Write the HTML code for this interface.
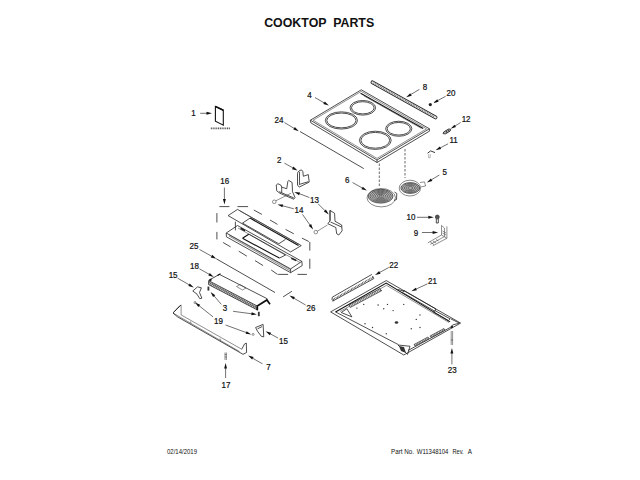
<!DOCTYPE html>
<html><head><meta charset="utf-8">
<style>
html,body{margin:0;padding:0;background:#fff;width:640px;height:480px;overflow:hidden}
svg{display:block}
text{font-family:"Liberation Sans",sans-serif;fill:#111}
.lb text{font-size:8px;stroke:#111;stroke-width:0.2}
.ln{stroke:#222;stroke-width:0.8;fill:none}
.th{stroke:#444;stroke-width:0.6;fill:none}
.dk{stroke:#111;stroke-width:1.1;fill:none}
.ds{stroke:#333;stroke-width:0.8;fill:none;stroke-dasharray:9 7}
.ar{stroke:#333;stroke-width:0.7;fill:none}
.ah{fill:#111}
</style></head><body>
<svg width="640" height="480" viewBox="0 0 640 480">
<rect width="640" height="480" fill="#fff"/>
<text x="264.2" y="26.8" font-weight="bold" font-size="13.2" textLength="110" lengthAdjust="spacingAndGlyphs" xml:space="preserve">COOKTOP  PARTS</text>
<text x="167" y="454.2" font-size="7.6" textLength="30" lengthAdjust="spacingAndGlyphs">02/14/2019</text>
<text x="391" y="454.2" font-size="7.6" textLength="23" lengthAdjust="spacingAndGlyphs">Part No.</text>
<text x="416.8" y="454.2" font-size="7.6" textLength="31.6" lengthAdjust="spacingAndGlyphs">W11348104</text>
<text x="452.5" y="454.2" font-size="7.6" textLength="11.2" lengthAdjust="spacingAndGlyphs">Rev.</text>
<text x="467.8" y="454.2" font-size="7.6" textLength="4.2" lengthAdjust="spacingAndGlyphs">A</text>

<g class="lb" text-anchor="middle">
<text transform="translate(193.5 115.6) scale(1 1.12)">1</text>
<text transform="translate(309.5 97.8) scale(1 1.12)">4</text>
<text transform="translate(278.9 122.5) scale(1 1.12)">24</text>
<text transform="translate(424.9 89.8) scale(1 1.12)">8</text>
<text transform="translate(451.0 96.3) scale(1 1.12)">20</text>
<text transform="translate(466.1 121.9) scale(1 1.12)">12</text>
<text transform="translate(453.6 143.1) scale(1 1.12)">11</text>
<text transform="translate(279.1 162.9) scale(1 1.12)">2</text>
<text transform="translate(314.4 202.6) scale(1 1.12)">13</text>
<text transform="translate(299.0 213.1) scale(1 1.12)">14</text>
<text transform="translate(224.7 184.4) scale(1 1.12)">16</text>
<text transform="translate(347.2 182.5) scale(1 1.12)">6</text>
<text transform="translate(444.7 175.0) scale(1 1.12)">5</text>
<text transform="translate(411.0 219.7) scale(1 1.12)">10</text>
<text transform="translate(415.9 235.6) scale(1 1.12)">9</text>
<text transform="translate(193.9 248.8) scale(1 1.12)">25</text>
<text transform="translate(194.4 268.8) scale(1 1.12)">18</text>
<text transform="translate(173.1 278.1) scale(1 1.12)">15</text>
<text transform="translate(225.0 311.3) scale(1 1.12)">3</text>
<text transform="translate(218.5 323.8) scale(1 1.12)">19</text>
<text transform="translate(311.0 310.6) scale(1 1.12)">26</text>
<text transform="translate(393.8 267.5) scale(1 1.12)">22</text>
<text transform="translate(432.5 283.8) scale(1 1.12)">21</text>
<text transform="translate(283.4 344.4) scale(1 1.12)">15</text>
<text transform="translate(268.5 370.0) scale(1 1.12)">7</text>
<text transform="translate(226.0 387.5) scale(1 1.12)">17</text>
<text transform="translate(452.2 373.1) scale(1 1.12)">23</text>
</g>
<path class="ar" d="M200.2,113.3 L207.0,113.3"/><path class="ah" d="M212.00,113.30 L206.50,114.75 L206.50,111.85 Z"/>
<path class="ar" d="M315.0,97.5 L324.5,103.1"/><path class="ah" d="M328.80,105.60 L323.32,104.07 L324.79,101.57 Z"/>
<path class="ar" d="M284.4,122.5 L294.5,128.6"/><path class="ah" d="M298.80,131.20 L293.34,129.60 L294.84,127.11 Z"/>
<path class="ar" d="M419.4,89.4 L410.5,94.7"/><path class="ah" d="M406.20,97.20 L410.20,93.15 L411.67,95.65 Z"/>
<path class="ar" d="M445.6,96.3 L437.5,100.7"/><path class="ah" d="M433.10,103.10 L437.24,99.20 L438.62,101.75 Z"/>
<path class="ar" d="M460.6,122.5 L454.8,126.1"/><path class="ah" d="M450.60,128.80 L454.48,124.64 L456.03,127.10 Z"/>
<path class="ar" d="M448.1,143.8 L440.0,148.0"/><path class="ah" d="M435.60,150.30 L439.81,146.48 L441.15,149.05 Z"/>
<path class="ar" d="M284.4,163.1 L293.2,168.1"/><path class="ah" d="M297.50,170.60 L292.01,169.13 L293.45,166.61 Z"/>
<path class="ar" d="M309.4,197.5 L299.1,193.6"/><path class="ah" d="M294.40,191.90 L300.06,192.47 L299.05,195.18 Z"/>
<path class="ar" d="M318.1,203.8 L325.2,210.9"/><path class="ah" d="M328.80,214.40 L323.87,211.56 L325.91,209.50 Z"/>
<path class="ar" d="M293.8,208.8 L282.3,205.7"/><path class="ah" d="M277.50,204.40 L283.19,204.43 L282.43,207.23 Z"/>
<path class="ar" d="M302.5,214.4 L310.2,225.3"/><path class="ah" d="M313.10,229.40 L308.74,225.75 L311.11,224.07 Z"/>
<path class="ar" d="M224.4,187.5 L224.4,199.4"/><path class="ah" d="M224.40,204.40 L222.95,198.90 L225.85,198.90 Z"/>
<path class="ar" d="M352.5,182.5 L362.5,188.1"/><path class="ah" d="M366.90,190.60 L361.40,189.17 L362.82,186.64 Z"/>
<path class="ar" d="M439.4,175.0 L431.2,179.9"/><path class="ah" d="M426.90,182.50 L430.87,178.43 L432.36,180.91 Z"/>
<path class="ar" d="M416.9,217.3 L428.8,217.3"/><path class="ah" d="M433.80,217.30 L428.30,218.75 L428.30,215.85 Z"/>
<path class="ar" d="M421.9,232.5 L433.1,232.5"/><path class="ah" d="M438.10,232.50 L432.60,233.95 L432.60,231.05 Z"/>
<path class="ar" d="M199.4,249.4 L211.9,256.4"/><path class="ah" d="M216.30,258.80 L210.79,257.39 L212.20,254.86 Z"/>
<path class="ar" d="M199.4,268.8 L209.4,274.4"/><path class="ah" d="M213.80,276.90 L208.30,275.47 L209.72,272.94 Z"/>
<path class="ar" d="M177.5,278.1 L189.5,285.0"/><path class="ah" d="M193.80,287.50 L188.31,286.01 L189.76,283.50 Z"/>
<path class="ar" d="M221.3,304.4 L213.9,295.7"/><path class="ah" d="M210.60,291.90 L215.28,295.14 L213.08,297.02 Z"/>
<path class="ar" d="M233.1,311.3 L251.9,313.8"/><path class="ah" d="M256.90,314.40 L251.26,315.13 L251.63,312.25 Z"/>
<path class="ar" d="M213.1,316.9 L198.9,305.6"/><path class="ah" d="M195.00,302.50 L200.21,304.79 L198.40,307.06 Z"/>
<path class="ar" d="M225.6,325.0 L246.6,332.7"/><path class="ah" d="M251.30,334.40 L245.64,333.87 L246.63,331.15 Z"/>
<path class="ar" d="M305.6,305.0 L293.7,298.1"/><path class="ah" d="M289.40,295.60 L294.88,297.11 L293.43,299.61 Z"/>
<path class="ar" d="M388.8,267.5 L379.4,272.6"/><path class="ah" d="M375.00,275.00 L379.14,271.10 L380.52,273.65 Z"/>
<path class="ar" d="M427.5,283.8 L415.8,289.2"/><path class="ah" d="M411.30,291.30 L415.68,287.67 L416.90,290.31 Z"/>
<path class="ar" d="M278.1,338.1 L270.0,333.7"/><path class="ah" d="M265.60,331.30 L271.12,332.65 L269.74,335.20 Z"/>
<path class="ar" d="M262.5,363.8 L252.4,358.1"/><path class="ah" d="M248.10,355.60 L253.60,357.06 L252.16,359.58 Z"/>
<path class="ar" d="M225.6,378.0 L225.6,368.1"/><path class="ah" d="M225.60,363.10 L227.05,368.60 L224.15,368.60 Z"/>
<path class="ar" d="M451.9,364.4 L451.9,353.1"/><path class="ah" d="M451.90,348.10 L453.35,353.60 L450.45,353.60 Z"/>
<!-- ===== part 1 ===== -->
<path class="dk" d="M215.4,106.4 L223.3,110.2 L223.3,125.2 L215.4,121.2 Z"/><path d="M215.4,106.4 L223.3,110.2" stroke="#111" stroke-width="1.6"/>
<path d="M210.8,128.4 L230.4,128.4" stroke="#555" stroke-width="1.6" stroke-dasharray="1.1 0.7" fill="none"/>

<!-- ===== cooktop 4 ===== -->
<path class="ln" d="M361.3,89.8 L310.4,120.2 L377,160 L429.4,128.75 Z"/>
<path class="th" d="M361.3,91.4 L313.1,120.2 L377.0,158.4 L426.6,128.8 Z"/>
<path class="ln" d="M310.4,120.2 L310.8,122.8 L377,162.5 L429.4,131.2 L429.4,128.75 M377,160 L377,162.5"/>
<path class="dk" d="M360.6,93.2 L423.2,128.6"/>
<path class="th" d="M364,95.9 L421.3,128.3"/>
<g class="ln" stroke-width="0.9">
<ellipse cx="341.4" cy="120.45" rx="16.1" ry="8.6"/>
<ellipse cx="341.4" cy="120.45" rx="14.6" ry="7.4"/>
<ellipse cx="362.8" cy="107.8" rx="12.8" ry="7.3"/>
<ellipse cx="362.8" cy="107.8" rx="11.3" ry="6.1"/>
<ellipse cx="398.75" cy="128.75" rx="13.1" ry="7.5"/>
<ellipse cx="398.75" cy="128.75" rx="11.6" ry="6.3"/>
<ellipse cx="375.3" cy="140.3" rx="15.9" ry="9.1"/>
<ellipse cx="375.3" cy="140.3" rx="14.4" ry="7.9"/>
</g>
<!-- bar 8 -->
<path d="M372.5,82.4 L435.5,117.4" stroke="#222" stroke-width="3.9" stroke-linecap="round" fill="none"/>
<path d="M372.5,82.4 L435.5,117.4" stroke="#e8e8e8" stroke-width="2.2" stroke-linecap="round" fill="none"/>
<path d="M373.5,83 L434.5,116.8" stroke="#666" stroke-width="1.6" stroke-dasharray="0.8 1" fill="none"/>
<circle cx="430.3" cy="104.6" r="1.6" fill="#222"/>
<!-- 12 grommet -->
<path d="M443,133.6 L443.8,131.9 L448.6,129 L450.7,129.2 L450.2,131 L445.6,133.9 Z M446,130.6 L447.3,133 M448,129.5 L449.2,131.6" fill="#aaa" stroke="#222" stroke-width="0.8"/>
<!-- 11 clip -->
<path d="M427.6,153.2 L430.6,150.9 L435,152.6" stroke="#222" stroke-width="0.9" fill="none"/><path d="M428.6,154.2 L428.6,157.8 L430.2,157.8 L430.2,154.2" stroke="#888" stroke-width="0.6" fill="none"/>
<!-- 24 line -->
<path class="ln" d="M300,131.5 L363.8,168.6"/>
<!-- dashed verticals -->
<path d="M379.3,163.5 L379.3,187 M405,149 L405,178" stroke="#444" stroke-width="0.8" stroke-dasharray="2.5 1.5" fill="none"/>
<!-- burner 6 -->
<defs><pattern id="hp" width="2" height="2" patternUnits="userSpaceOnUse" patternTransform="rotate(-30)"><rect width="2" height="2" fill="#d8d8d8"/><rect width="2" height="0.9" fill="#555"/></pattern></defs>
<ellipse cx="381.25" cy="197.7" rx="14.2" ry="9.2" fill="none" stroke="#555" stroke-width="0.7"/>
<ellipse cx="380.6" cy="196.2" rx="12.4" ry="6.9" fill="#bbb" stroke="#333" stroke-width="0.8"/>
<g fill="none" stroke="#444" stroke-width="0.7">
<ellipse cx="380.6" cy="196.2" rx="10.6" ry="5.9"/>
<ellipse cx="380.6" cy="196.2" rx="8.8" ry="4.9"/>
<ellipse cx="380.6" cy="196.2" rx="7.0" ry="3.9"/>
<ellipse cx="380.6" cy="196.2" rx="5.2" ry="2.9"/>
<ellipse cx="380.6" cy="196.2" rx="3.4" ry="1.9"/>
<ellipse cx="380.6" cy="196.2" rx="1.6" ry="0.9"/>
</g>
<path class="ln" d="M394.5,192 L396.8,193.5 L396.5,199.5 L394,200.5"/>
<!-- burner 5 -->
<ellipse cx="409.9" cy="188.1" rx="10.7" ry="7.9" fill="none" stroke="#555" stroke-width="0.7"/>
<ellipse cx="410.3" cy="188" rx="9.4" ry="5.4" fill="#bbb" stroke="#333" stroke-width="0.8"/>
<g fill="none" stroke="#444" stroke-width="0.7">
<ellipse cx="410.3" cy="188.0" rx="7.8" ry="4.5"/>
<ellipse cx="410.3" cy="188.0" rx="6.0" ry="3.4"/>
<ellipse cx="410.3" cy="188.0" rx="4.2" ry="2.4"/>
<ellipse cx="410.3" cy="188.0" rx="2.4" ry="1.4"/>
</g>
<path class="th" d="M420,182.5 L424.5,181.9 L425.6,186 L421,186.9"/>

<!-- part 2 -->
<path class="ln" d="M297.9,172.1 L299.6,170.4 L301.7,170 L302.9,171.7 L303.3,176.25 L308.3,174.6 L309.2,182.1 L299.2,187.1 L297.5,185 L297.5,173.75 Z M299.6,171.7 L299.4,185 M300,184.2 L308.3,181.7"/>
<!-- part 13 left -->
<path class="ln" d="M276.25,185 L277.9,183.75 L280.8,185 L281.7,187.1 L286.7,188.75 L287.9,181.25 L288.75,180.4 L292.1,182.5 L292.5,191.7 L295,197.5 L293.75,199.2 L280,193.3 L276.7,190.8 Z M279.2,191.7 L293.75,197.9 M281.7,187.1 L281.7,192.5"/>
<circle cx="274.3" cy="201.8" r="1.8" class="th"/>
<path class="th" d="M275.8,200.8 L290.8,193.3"/>
<!-- part 13 right -->
<path class="ln" d="M330,210.4 L334.6,213.3 L335,221.25 L341.7,225 L342.1,230.8 L338.75,235 L336.7,233.75 L335.8,227.5 L327.9,223.75 L330,220.8 Z M330,210.4 L330,220.8 M330.5,222 L341.7,227"/>
<circle cx="315.8" cy="232.1" r="1.8" class="th"/>
<path class="th" d="M317.3,231.2 L327.5,225"/>

<!-- dashed outline 16 -->
<path class="ln" d="M219.4,206.6 L229.4,206.6 M237.5,206.6 L248.1,206.6 M253.8,210.0 L261.9,214.4 M270.0,220.0 L277.5,224.4 M285.6,229.4 L293.8,233.8 M301.9,238.1 L308.8,241.5 M309.8,241.9 L309.8,250.6 M309.8,258.8 L309.8,268.8 M306.9,274.4 L297.5,274.4 M288.1,274.4 L278.1,274.4 M277.5,274.4 L271.2,270.0 M263.1,265.6 L255.0,260.6 M246.9,256.2 L238.8,251.2 M230.6,246.9 L223.1,242.5 M216.9,239.4 L216.9,231.9 M216.9,222.5 L216.9,213.1"/>
<!-- upper panel 16 -->
<path class="ln" d="M228.1,215.6 L237.5,209.4 L301.25,245.6 L290.6,251.9 Z"/>
<path class="dk" d="M250,218.1 L298.5,245.6"/>
<path class="th" d="M240,211 L299,244.3"/>
<path class="ln" d="M242.5,223.1 L250,218.1 M278.75,243.75 L285.5,239.4 M242.5,223.1 L278.75,243.75"/>
<path class="ln" d="M235.4,221.7 L235.4,230.4"/>
<!-- lower panel 25 -->
<path class="ln" d="M226.25,233 L237.5,225.5 L301.9,261.4 L290.6,268.9 Z M226.25,233 L226.4,236.8 L290.6,272.7 L302.2,265.6 L301.9,261.4 M290.6,268.9 L290.6,272.7"/>
<path class="th" d="M228.5,234.5 L291,269.8 M229,236 L290.5,271 M238,228 L300,262.5"/>
<path class="dk" d="M242.5,238.3 L279.4,258.1 M242.5,238.3 L248.75,234.2"/>
<path class="ln" d="M279.4,258.1 L285.6,255 M248.75,234.2 L285.6,255"/>
<path d="M240.6,228.3 L245,230.8" stroke="#222" stroke-width="1.6"/>
<path d="M291.3,258.3 L296.3,260.6" stroke="#222" stroke-width="1.6"/>

<!-- 25 line -->
<path class="ln" d="M216.3,258.8 L275,292.5"/>
<!-- 26 piece -->
<path class="ln" d="M283.1,296.9 L291.9,291.25"/>

<!-- part 18 housing -->
<defs><pattern id="hp2" width="1.8" height="1.8" patternUnits="userSpaceOnUse" patternTransform="rotate(28)"><rect width="1.8" height="1.8" fill="#e0e0e0"/><rect width="0.8" height="1.8" fill="#666"/></pattern></defs>
<path class="ln" d="M209.4,280 L219.4,274.4 L266.9,298.6 L266.9,300"/>
<path d="M208.8,281 L257.2,306.2 L257.2,309.8 L208.8,284.4 Z" fill="url(#hp2)"/>
<path class="ln" d="M208.6,280.6 L257.2,306 M208.6,284.6 L257.5,310 M208.6,280.6 L208.6,284.6"/>
<path class="th" d="M209,282.6 L257.2,308"/>
<path d="M257.3,310.2 L257.3,306 L266.9,300 L270,304.3" stroke="#111" stroke-width="1.7" fill="none"/>
<path d="M209.3,280.5 L211.5,279.4" stroke="#111" stroke-width="1.8"/>
<path class="th" d="M236.5,286.5 L240,284.5 L246,288 L242.5,290 Z"/>
<path class="dk" d="M217.5,275.5 L220.5,273.8"/>
<!-- screws 3 -->
<path d="M208.4,286.6 L208.4,290.6" stroke="#333" stroke-width="1.8"/>
<path d="M258.8,311.8 L258.8,316.2" stroke="#333" stroke-width="1.8"/>
<!-- clip 15 left -->
<path class="ln" d="M192.8,291 L197.5,286.9 L201.4,287.8 L199.5,292.5 L201.9,298.2 L199.8,298.7 L197,294.2 Z"/>
<circle cx="195" cy="302.5" r="1" class="th"/>
<!-- trim 7 -->
<path class="th" stroke="#666" d="M181.1,304.9 L181.1,314.9 L241.75,349.25 M173,313 L239.5,351.5 M190.5,321.5 L191,323.5 M220,338.5 L220.5,340.5"/>
<path class="ln" stroke="#444" stroke-width="0.7" d="M181.1,304.9 L173,313 L177.4,316.75 L243,354.3 L246.6,352.5 L246.3,343.1 L244.5,344 L241.75,349.25 M180,305.5 L174,311.8"/>
<!-- clip 15 right -->
<path class="ln" d="M255.6,327.5 L263.1,324.4 L263.75,336.9 L261.25,336.25 L257.5,331.25 Z M257.6,328.8 L262,326.6"/>
<circle cx="253.1" cy="334.4" r="1" class="th"/>
<!-- screw 17 -->
<path class="th" d="M225,352.5 L225,360 M226.4,352.5 L226.4,360 M224.8,354.5 L226.6,354.5 M224.8,357 L226.6,357"/>

<!-- part 10 screw -->
<circle cx="437.3" cy="217" r="2" fill="#555" stroke="#222" stroke-width="0.6"/>
<path class="ln" d="M436.3,219 L436.3,223 L438.3,223 L438.3,219"/>
<!-- part 9 bracket -->
<path class="th" stroke="#333" d="M441.5,225.4 L444.4,228 L444.6,236.5 M441.5,225.4 L441.5,235 L427.8,242.9 M446.9,226.3 L446.9,238.3 L432.8,245.8 M441.5,235 L446.9,238.3 M444.6,236.5 L430.3,244.4 M430,241.6 L434,244.7"/>
<path class="th" stroke="#777" d="M442.5,233 L446,235 M442.5,231 L446,233 M436,239.5 L438.5,241 M433,241 L436,243"/>
<!-- rail 22 -->
<path d="M333.6,301.2 L332,299.6 L332.3,297.2 L371.9,274.4 M332.5,301.2 L373.8,278.6 L372.5,276" stroke="#222" stroke-width="0.8" fill="none"/>
<path d="M333,299.6 L373,277.2" stroke="#444" stroke-width="1.6" stroke-dasharray="0.8 0.8" fill="none"/>
<!-- tray 21 -->
<path class="ln" d="M386.25,280.6 L330.6,311.9 L403.75,355 L460.6,323.1 Z"/>
<path class="dk" d="M335.5,311.9 L386.25,283.1 L450,321.9"/>
<path class="th" d="M340,311.5 L386.5,285.3 L449,322.5"/>
<path class="ln" d="M335.5,311.9 L398.3,344.6 M451.25,326.9 L408,350.5 M450.6,318.75 L459.4,323.1 L452.5,325 L451.25,326.9"/>
<path class="ln" d="M404,290.5 L436,309 L434.5,311 L402.5,292.5 Z M435,310.6 L450,318.75 L448.6,320.6 L433.6,312.4 Z"/>
<path d="M349,305 L380,288.5 L381.2,291 L350.2,307.5 Z" fill="url(#hp2)" stroke="#222" stroke-width="0.6"/>
<path d="M414,344.5 L428,337 L429,338.6 L415,346 Z M430,336 L444,328.5 L445,330.1 L431,337.6 Z" fill="url(#hp2)" stroke="#222" stroke-width="0.6"/>
<path class="ln" d="M341.25,312.5 L346.9,308.75 L351.9,316.9 Z M398,345 L410,346.25 L407.5,354.4 Z M397.5,289.4 L404.4,291.25"/>
<path d="M399,346 L404,347 L406,353 L401,351 Z" fill="#333"/>
<g fill="#333">
<ellipse cx="396.5" cy="322.5" rx="1.8" ry="1.2"/>
<circle cx="387.5" cy="304.4" r="0.7"/><circle cx="383.75" cy="308.75" r="0.7"/><circle cx="393.1" cy="310.6" r="0.7"/>
<circle cx="403.75" cy="304.4" r="0.7"/><circle cx="420" cy="315" r="0.7"/><circle cx="416.25" cy="319.4" r="0.7"/>
<circle cx="411.25" cy="328.75" r="0.7"/><circle cx="420" cy="327.5" r="0.7"/><circle cx="381.25" cy="290.6" r="0.6"/>
<circle cx="365" cy="323.75" r="0.7"/><circle cx="372.5" cy="327.5" r="0.7"/><circle cx="386.25" cy="333.75" r="0.7"/>
<circle cx="356.9" cy="308.1" r="0.7"/><circle cx="363.75" cy="304.4" r="0.7"/><circle cx="378.1" cy="305" r="0.7"/>
</g>
<!-- screw 23 -->
<path class="th" d="M451.2,331 L451.2,345 M452.6,331 L452.6,345 M450.8,340 L453,340"/>
<circle cx="451.9" cy="327" r="1.2" fill="#222"/>

</svg>
</body></html>
